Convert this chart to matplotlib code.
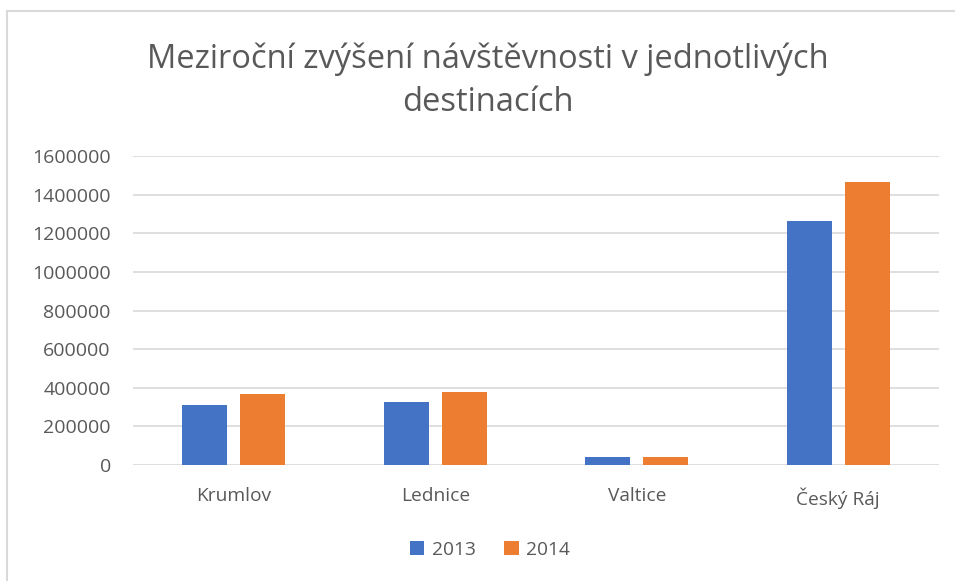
import numpy as np
import matplotlib.pyplot as plt
from matplotlib.patches import Rectangle

categories = ["Krumlov", "Lednice", "Valtice", "Český Ráj"]
years = ["2013", "2014"]
visits_2013 = [309000, 328000, 41000, 1264000]
visits_2014 = [366000, 377000, 40000, 1466000]
yticks = [0, 200000, 400000, 600000, 800000, 1000000, 1200000, 1400000, 1600000]

blue = "#4472C4"
orange = "#ED7D31"
text_col = "#595959"
font = ["Open Sans", "DejaVu Sans"]

W, H = 955, 581
fig = plt.figure(figsize=(W / 100, H / 100), dpi=100)

# chart border (only left and top visible)
fig.add_artist(Rectangle((7 / W, -0.1), 1.2, 1 - 11 / H + 0.1, transform=fig.transFigure,
                         fill=False, edgecolor="#D9D9D9", linewidth=1.5))

ax = fig.add_axes([133 / W, 1 - 465 / H, (939 - 133) / W, (465 - 156) / H])

x = np.arange(len(categories))
bw = 0.223
off = 0.144
ax.bar(x - off, visits_2013, bw, color=blue, label=years[0], zorder=3)
ax.bar(x + off, visits_2014, bw, color=orange, label=years[1], zorder=3)

ax.set_xlim(-0.5, len(categories) - 0.5)
ax.set_ylim(0, 1600000)
ax.set_yticks(yticks)
ax.set_yticklabels([str(v) for v in yticks], fontsize=14, color=text_col, family=font)
ax.set_xticks(x)
ax.set_xticklabels(categories, fontsize=13.8, color=text_col, family=font)
ax.tick_params(axis="both", length=0)
ax.tick_params(axis="y", pad=16)
ax.tick_params(axis="x", pad=16)
ax.grid(axis="y", color="#D9D9D9", linewidth=1.2, zorder=0)
for s in ax.spines.values():
    s.set_visible(False)

fig.text(488 / W, 1 - 81 / H, "Meziroční zvýšení návštěvnosti v jednotlivých\ndestinacích",
         ha="center", va="center", fontsize=23.5, color=text_col, family=font, linespacing=1.4)

leg = fig.legend(loc="center", bbox_to_anchor=(490 / W, 1 - 550 / H), ncol=2, frameon=False,
                 prop={"family": font, "size": 13.8}, handlelength=0.75, handleheight=0.75,
                 handletextpad=0.4, columnspacing=1.5)
for t in leg.get_texts():
    t.set_color(text_col)

fig.savefig("out.png", dpi=100)
